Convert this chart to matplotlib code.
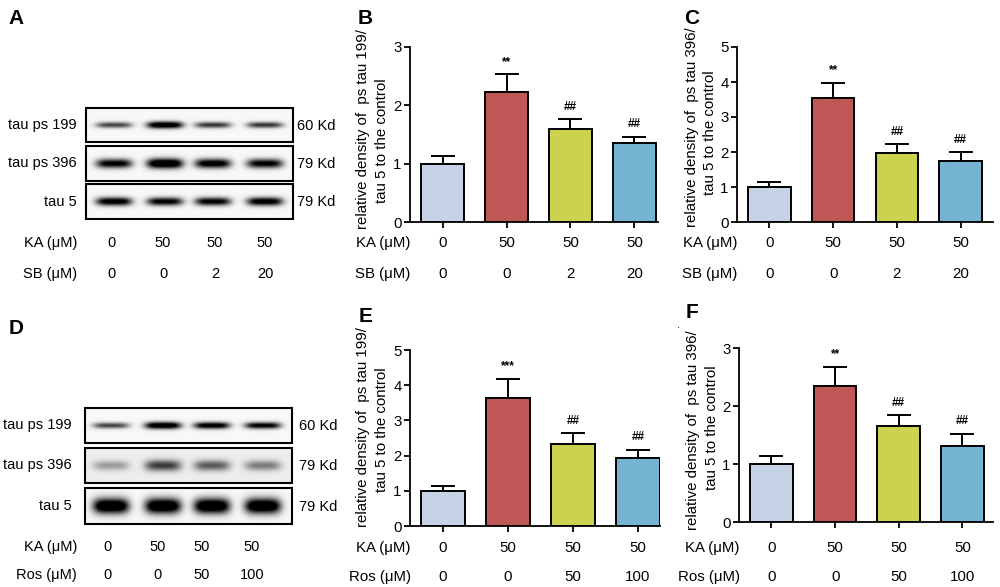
import numpy as np
import matplotlib
matplotlib.use("Agg")
from matplotlib import pyplot as plt
from matplotlib.patches import Rectangle
from matplotlib.transforms import blended_transform_factory

plt.rcParams['font.family'] = ['Liberation Sans', 'DejaVu Sans']

# treatment labels
ka_doses = ['0', '50', '50', '50']
sb_doses = ['0', '0', '2', '20']
ros_doses = ['0', '0', '50', '100']

# quantification (mean, upper SEM)
b_mean = [1.00, 2.23, 1.59, 1.35]
b_err = [0.14, 0.30, 0.17, 0.11]
c_mean = [1.00, 3.55, 1.97, 1.75]
c_err = [0.13, 0.42, 0.25, 0.24]
e_mean = [1.00, 3.63, 2.32, 1.92]
e_err = [0.14, 0.55, 0.31, 0.24]
f_mean = [1.00, 2.34, 1.65, 1.31]
f_err = [0.13, 0.33, 0.19, 0.21]
marks_sb = ['', '**', '##', '##']
marks_e = ['', '***', '##', '##']
marks_f = ['', '**', '##', '##']

# relative band darkness per lane (western blots)
a_ps199 = [0.55, 0.95, 0.60, 0.60]
a_ps396 = [0.80, 1.00, 0.85, 0.80]
a_tau5 = [0.85, 0.80, 0.80, 0.85]
d_ps199 = [0.55, 0.95, 0.85, 0.80]
d_ps396 = [0.25, 0.55, 0.45, 0.35]
d_tau5 = [1.00, 1.00, 1.00, 1.00]

blot_rows = ['tau ps 199', 'tau ps 396', 'tau 5']
blot_kd = ['60 Kd', '79 Kd', '79 Kd']

bar_colors = ['#c6d3e6', '#c05656', '#cdd24e', '#74b4d2']

fig = plt.figure(figsize=(10, 5.87), dpi=100)
ov = fig.add_axes([0, 0, 1, 1])
ov.axis('off')


def band_image(intens, lanes, x0, x1, y0, y1, half_w, half_h, bg=0.97):
    xs = np.linspace(x0, x1, int((x1 - x0) * 3))
    ys = np.linspace(y0, y1, int((y1 - y0) * 3))
    X, Y = np.meshgrid(xs, ys)
    cy = (y0 + y1) / 2
    dark = np.zeros_like(X)
    for cx, v in zip(lanes, intens):
        hh = half_h * (0.7 + 0.4 * v)
        dark += v * np.exp(-np.abs((X - cx) / half_w) ** 4) * np.exp(-((Y - cy) / hh) ** 2)
    return bg - np.clip(dark * 1.3, 0, bg)


def draw_blot(rows, lanes, boxes, x0, x1, half_hs, bgs, label_x, kd_x, fs=10.5):
    for vals, (y0, y1), hh, bg, name, kd in zip(rows, boxes, half_hs, bgs, blot_rows, blot_kd):
        img = band_image(vals, lanes, x0, x1, y0, y1, 18, hh, bg)
        ov.imshow(img, extent=(x0, x1, y1, y0), cmap='gray', vmin=0, vmax=1,
                  aspect='auto', interpolation='bilinear')
        ov.add_patch(Rectangle((x0, y0), x1 - x0, y1 - y0, fill=False, lw=1.5, ec='black'))
        ov.text(label_x, (y0 + y1) / 2, name, ha='right', va='center', fontsize=fs)
        ov.text(kd_x, (y0 + y1) / 2 + 1, kd, ha='left', va='center', fontsize=fs)


def dose_rows(xs, rows, label_x, fs=10.5):
    for name, vals, y in rows:
        ov.text(label_x, y, name, ha='right', va='center', fontsize=fs)
        for x, v in zip(xs, vals):
            ov.text(x, y, v, ha='center', va='center', fontsize=fs)


# panel A
draw_blot([a_ps199, a_ps396, a_tau5], [114, 165, 213, 265],
          [(108, 142), (146, 181), (184, 219)], 86, 293,
          [3.2, 4.5, 4.0], [0.97, 0.97, 0.97], 77, 297)
dose_rows([112, 163, 215, 265], [('KA (μM)', ka_doses, 243), ('SB (μM)', sb_doses, 274)], 77)

# panel D
draw_blot([d_ps199, d_ps396, d_tau5], [111, 163, 212, 263],
          [(408, 443), (448, 483), (488, 524)], 85, 292,
          [3.2, 6.0, 7.0], [0.97, 0.93, 0.97], 72, 299)
dose_rows([108, 158, 202, 252], [('KA (μM)', ka_doses, 547), ('Ros (μM)', ros_doses, 575)], 77)


def bar_panel(box, xlim, ymax, means, errs, marks, ylab, ylab_pos, row2, rows_y, ylab_fs=10.8):
    left, right, bottom, top = box
    ax = fig.add_axes([left / 1000, 1 - bottom / 587, (right - left) / 1000, (bottom - top) / 587])
    x = np.arange(len(means))
    ax.bar(x, means, width=0.67, color=bar_colors, edgecolor='black', linewidth=1.4, zorder=3)
    ax.errorbar(x, means, yerr=[np.zeros(len(errs)), errs], fmt='none', ecolor='black',
                elinewidth=1.4, capsize=8.5, capthick=1.4, zorder=2)
    for xi, m, e, s in zip(x, means, errs, marks):
        if s:
            ax.annotate(s, (xi, m + e), xytext=(0, 9), textcoords='offset points',
                        ha='center', va='center', fontsize=8.5, fontweight='bold')
    ax.set_xlim(*xlim)
    ax.set_ylim(0, ymax)
    ax.set_yticks(range(ymax + 1))
    ax.set_xticks(x)
    ax.set_xticklabels([])
    for sp in ['top', 'right']:
        ax.spines[sp].set_visible(False)
    for sp in ['left', 'bottom']:
        ax.spines[sp].set_linewidth(1.3)
    ax.tick_params(axis='both', width=1.3, length=4, labelsize=10.8, pad=2)
    tr = blended_transform_factory(ax.transData, ax.transAxes)
    h = bottom - top
    for name, vals, y in [('KA (μM)', ka_doses, rows_y[0]), (row2[0], row2[1], rows_y[1])]:
        ya = (bottom - y) / h
        ax.text(-0.5, ya, name, transform=tr, ha='right', va='center', fontsize=10.8)
        for xi, v in zip(x, vals):
            ax.text(xi, ya, v, transform=tr, ha='center', va='center', fontsize=10.8)
    for txt, (px, py) in zip(ylab, ylab_pos):
        ov.text(px, py, txt, rotation=90, ha='center', va='center', fontsize=ylab_fs)
    return ax


bar_panel((410, 658, 222, 47), (-0.51, 3.37), 3, b_mean, b_err, marks_sb,
          ['relative density of  ps tau 199/', 'tau 5 to the control'],
          [(363, 129), (382, 141)], ('SB (μM)', sb_doses), (243, 274))
bar_panel((737, 993, 222, 47), (-0.51, 3.51), 5, c_mean, c_err, marks_sb,
          ['relative density of  ps tau 396/', 'tau 5 to the control'],
          [(692, 127), (710, 133)], ('SB (μM)', sb_doses), (243, 274))
bar_panel((410, 660, 526, 350), (-0.51, 3.34), 5, e_mean, e_err, marks_e,
          ['relative density of  ps tau 199/', 'tau 5 to the control'],
          [(363, 427), (382, 430)], ('Ros (μM)', ros_doses), (548, 577))
bar_panel((739, 993, 522, 348), (-0.51, 3.48), 3, f_mean, f_err, marks_f,
          ['relative density of  ps tau 396/', 'tau 5 to the control'],
          [(693, 430), (712, 428)], ('Ros (μM)', ros_doses), (548, 577))

# panel letters
for letter, (px, py) in zip('ABCDEF', [(16, 18), (365, 19), (692, 19), (16, 328), (366, 316), (692, 313)]):
    ov.text(px, py, letter, ha='center', va='center', fontsize=15, fontweight='bold')
ov.text(679, 325, '.', ha='center', va='center', fontsize=8)

ov.set_xlim(0, 1000)
ov.set_ylim(587, 0)

fig.savefig('out.png', dpi=100)
